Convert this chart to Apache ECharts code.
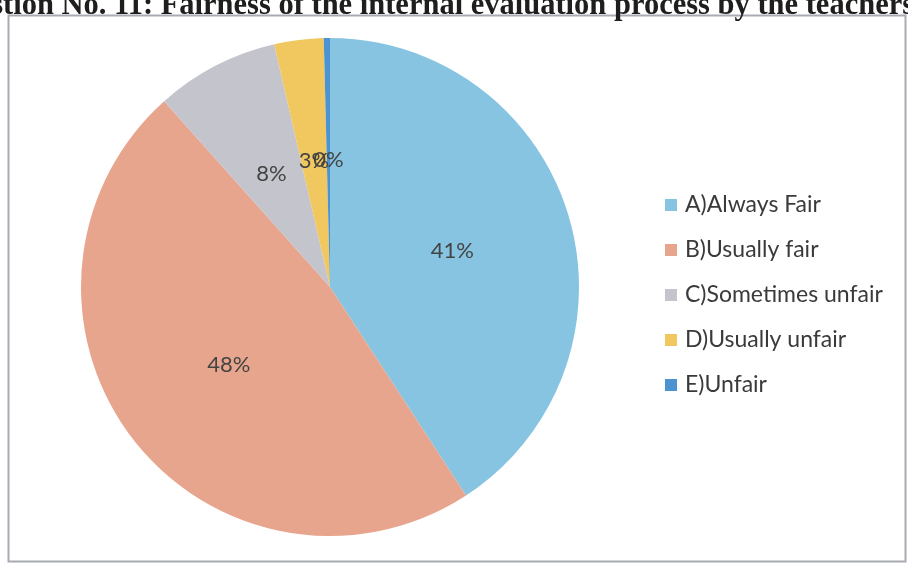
<!DOCTYPE html>
<html>
<head>
<meta charset="utf-8">
<script src="https://cdn.jsdelivr.net/npm/echarts@6/dist/echarts.min.js"></script>
<style>
	html, body { margin: 0; padding: 0; background: #fff; }
	#chart { width: 908px; height: 565px; }
</style>
</head>
<body>
<div id="chart"></div>
<script>
//饼图数据
var categories = ['A)Always Fair', 'B)Usually fair', 'C)Sometimes unfair', 'D)Usually unfair', 'E)Unfair'];
var values = [102, 119, 20, 8, 1];
var colors = ['#87c4e1', '#e8a58d', '#c4c4cd', '#f1c75f', '#4b93d1'];

var pieData = [];
for(var i = 0; i < categories.length; i++) {
	pieData.push({ name: categories[i], value: values[i] });
}

var myChart = echarts.init(document.getElementById('chart'));
var option = {
	animation: false,
	color: colors,
	graphic: [
		{
			type: 'rect',
			shape: { x: 8.5, y: 15.5, width: 897, height: 546 },
			style: { fill: 'none', stroke: '#a9abb3', lineWidth: 2 }
		},
		{
			type: 'text',
			left: -63,
			top: -9,
			style: {
				text: 'Question No. 11: Fairness of the internal evaluation process by the teachers',
				font: 'bold 30.5px "Liberation Serif"',
				fill: '#1e1e1e'
			}
		}
	],
	legend: {
		orient: 'vertical',
		left: 660,
		top: 188,
		itemWidth: 12,
		itemHeight: 12,
		itemGap: 21,
		icon: 'rect',
		data: categories,
		textStyle: { fontFamily: 'Lato', fontSize: 23, lineHeight: 24, color: '#3a3a3a', padding: [0, 0, 0, 3] }
	},
	series: [{
		type: 'pie',
		center: [330, 287],
		radius: 249,
		startAngle: 90,
		clockwise: true,
		avoidLabelOverlap: false,
		data: pieData,
		label: {
			position: 'inside',
			formatter: function(p) {
				return Math.round(p.percent) + '%';
			},
			fontFamily: 'Lato',
			fontSize: 22,
			color: '#444'
		},
		labelLine: { show: false },
		labelLayout: { hideOverlap: false },
		itemStyle: { borderWidth: 0 }
	}]
};
myChart.setOption(option);
</script>
</body>
</html>
